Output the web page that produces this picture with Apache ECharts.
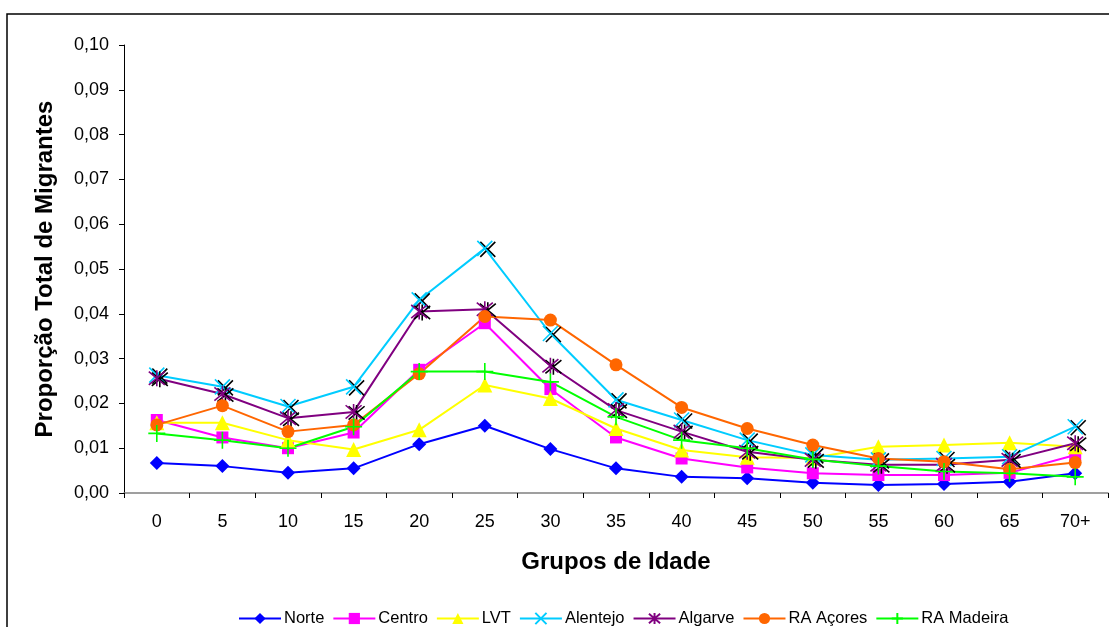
<!DOCTYPE html>
<html>
<head>
<meta charset="utf-8">
<script src="https://cdn.jsdelivr.net/npm/echarts@6/dist/echarts.min.js"></script>
<style>
  html, body { margin: 0; padding: 0; background: #fff; }
  #chart { width: 1109px; height: 627px; }
</style>
</head>
<body>
<div id="chart"></div>
<script>
// Age groups (x categories)
const ageGroups = ['0', '5', '10', '15', '20', '25', '30', '35', '40', '45', '50', '55', '60', '65', '70+'];

// Proportion of total migrants by region and age group
const norte    = [0.0067, 0.0060, 0.0045, 0.0055, 0.0109, 0.0150, 0.0098, 0.0055, 0.0036, 0.0033, 0.0023, 0.0018, 0.0020, 0.0025, 0.0044];
const centro   = [0.0163, 0.0124, 0.0100, 0.0135, 0.0275, 0.0379, 0.0232, 0.0124, 0.0077, 0.0057, 0.0044, 0.0040, 0.0040, 0.0045, 0.0085];
const lvt      = [0.0157, 0.0157, 0.0118, 0.0097, 0.0141, 0.0241, 0.0211, 0.0144, 0.0096, 0.0080, 0.0078, 0.0103, 0.0107, 0.0112, 0.0103];
const alentejo = [0.0263, 0.0237, 0.0193, 0.0237, 0.0431, 0.0546, 0.0356, 0.0208, 0.0163, 0.0118, 0.0085, 0.0074, 0.0077, 0.0081, 0.0148];
const algarve  = [0.0256, 0.0221, 0.0167, 0.0181, 0.0405, 0.0410, 0.0284, 0.0185, 0.0137, 0.0092, 0.0074, 0.0063, 0.0063, 0.0074, 0.0111];
const acores   = [0.0152, 0.0195, 0.0137, 0.0152, 0.0266, 0.0394, 0.0386, 0.0286, 0.0191, 0.0144, 0.0107, 0.0077, 0.0070, 0.0053, 0.0068];
const madeira  = [0.0133, 0.0118, 0.0100, 0.0148, 0.0271, 0.0271, 0.0248, 0.0170, 0.0118, 0.0100, 0.0075, 0.0060, 0.0048, 0.0044, 0.0036];

const FONT = '"Liberation Sans", Arial, sans-serif';

// Stroke-drawn marker shapes
const crossX   = 'path://M0,0L10,10M10,0L0,10';
const asterisk = 'path://M0,0L10,10M10,0L0,10M5,-1L5,11';
const plus     = 'path://M5,0L5,10M0,5L10,5';

function filledSeries(name, data, color, symbol, size) {
  return {
    name, type: 'line', data,
    symbol, symbolSize: size,
    lineStyle: { color, width: 2 },
    itemStyle: { color, borderWidth: 0 },
    z: 2
  };
}

function strokedSeries(name, data, color, symbol, size, shadow) {
  const itemStyle = { color: 'none', borderColor: color, borderWidth: 1.6 };
  if (shadow) {
    itemStyle.shadowColor = '#000';
    itemStyle.shadowBlur = 0;
    itemStyle.shadowOffsetX = 3;
    itemStyle.shadowOffsetY = 1;
  }
  return {
    name, type: 'line', data,
    symbol, symbolSize: size,
    lineStyle: { color, width: 2 },
    itemStyle,
    z: 2
  };
}

const chart = echarts.init(document.getElementById('chart'), null, { renderer: 'canvas' });

chart.setOption({
  animation: false,
  backgroundColor: '#fff',
  graphic: [{
    type: 'rect',
    shape: { x: 7, y: 14, width: 1300, height: 800 },
    style: { fill: 'none', stroke: '#000', lineWidth: 1.5 },
    silent: true,
    z: -10
  }],
  grid: { left: 124, top: 45, right: 1, bottom: 134 },
  legend: {
    left: 233, top: 605,
    itemWidth: 42, itemHeight: 14, itemGap: 8,
    textStyle: { fontFamily: FONT, fontSize: 16.5, color: '#000', padding: [0, 0, 0, -2] },
    data: ['Norte', 'Centro', 'LVT', 'Alentejo', 'Algarve', 'RA Açores', 'RA Madeira']
  },
  xAxis: {
    type: 'category',
    data: ageGroups,
    boundaryGap: true,
    name: 'Grupos de Idade',
    nameLocation: 'middle',
    nameGap: 57,
    nameTextStyle: { fontFamily: FONT, fontSize: 24, fontWeight: 'bold', color: '#000' },
    axisLine: { lineStyle: { color: '#808080', width: 1.5 } },
    axisTick: { show: true, alignWithLabel: false, length: 5, lineStyle: { color: '#000' } },
    axisLabel: { fontFamily: FONT, fontSize: 18, color: '#000', margin: 20, interval: 0 },
    splitLine: { show: false }
  },
  yAxis: {
    type: 'value',
    min: 0, max: 0.1, interval: 0.01,
    name: 'Proporção Total de Migrantes',
    nameLocation: 'middle',
    nameGap: 67,
    nameTextStyle: { fontFamily: FONT, fontSize: 24, fontWeight: 'bold', color: '#000' },
    axisLine: { show: true, lineStyle: { color: '#000', width: 1 } },
    axisTick: { show: true, length: 5, lineStyle: { color: '#000' } },
    axisLabel: {
      fontFamily: FONT, fontSize: 18, color: '#000', margin: 15,
      formatter: v => v.toFixed(2).replace('.', ',')
    },
    splitLine: { show: false }
  },
  series: [
    filledSeries('Norte', norte, '#0000FF', 'diamond', 14),
    filledSeries('Centro', centro, '#FF00FF', 'rect', 12),
    filledSeries('LVT', lvt, '#FFFF00', 'triangle', 15),
    strokedSeries('Alentejo', alentejo, '#00CCFF', crossX, 15, true),
    strokedSeries('Algarve', algarve, '#800080', asterisk, 16, true),
    filledSeries('RA Açores', acores, '#FF6600', 'circle', 13),
    strokedSeries('RA Madeira', madeira, '#00FF00', plus, 17, false)
  ]
});
</script>
</body>
</html>
